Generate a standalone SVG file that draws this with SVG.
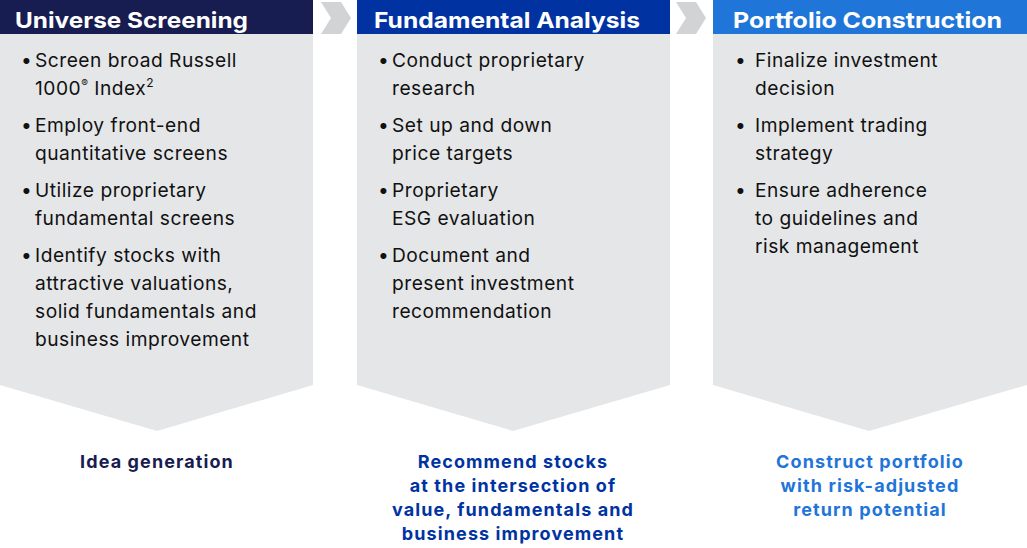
<svg xmlns="http://www.w3.org/2000/svg" width="1027" height="548" viewBox="0 0 1027 548">
<style>
.body{fill:#e5e6e8}
.chev{fill:#d1d3d4}
.hd{font-family:Inter,"Liberation Sans",sans-serif;font-weight:700;font-size:22px;fill:#ffffff}
.bl{font-family:Inter,"Liberation Sans",sans-serif;font-size:19.2px;letter-spacing:0.5px;fill:#111111}
.lb{font-family:Inter,"Liberation Sans",sans-serif;font-weight:700;font-size:18px;letter-spacing:1.1px;text-anchor:middle}
</style>
<rect width="1027" height="548" fill="#ffffff"/>
<g id="connectors">
<polygon class="chev" points="321,2 341,2 351,18 341,34 321,34 331,18"/>
<polygon class="chev" points="676,2 696,2 706,18 696,34 676,34 686,18"/>
</g>
<g id="universe-screening">
<polygon class="body" points="0,34 313,34 313,385 157,431 0,385"/>
<rect x="0" y="0" width="313" height="34" fill="#171d51"/>
<text class="hd" x="15" y="28" textLength="233" lengthAdjust="spacingAndGlyphs">Universe Screening</text>
<g class="bl">
<text x="21" y="67">•</text>
<text x="35" y="67">Screen broad Russell</text>
<text x="35" y="95">1000<tspan font-size="10" dy="-8">®</tspan><tspan dy="8"> Index</tspan><tspan font-size="12" dy="-8">2</tspan></text>
<text x="21" y="132">•</text>
<text x="35" y="132">Employ front-end</text>
<text x="35" y="160">quantitative screens</text>
<text x="21" y="197">•</text>
<text x="35" y="197">Utilize proprietary</text>
<text x="35" y="225">fundamental screens</text>
<text x="21" y="262">•</text>
<text x="35" y="262">Identify stocks with</text>
<text x="35" y="290">attractive valuations,</text>
<text x="35" y="318">solid fundamentals and</text>
<text x="35" y="346">business improvement</text>
</g>
<text class="lb" x="157" y="468" fill="#171d51">Idea generation</text>
</g>
<g id="fundamental-analysis">
<polygon class="body" points="357,34 670,34 670,385 513,431 357,385"/>
<rect x="357" y="0" width="313" height="34" fill="#0033a1"/>
<text class="hd" x="374" y="28" textLength="266" lengthAdjust="spacingAndGlyphs">Fundamental Analysis</text>
<g class="bl">
<text x="378" y="67">•</text>
<text x="392" y="67">Conduct proprietary</text>
<text x="392" y="95">research</text>
<text x="378" y="132">•</text>
<text x="392" y="132">Set up and down</text>
<text x="392" y="160">price targets</text>
<text x="378" y="197">•</text>
<text x="392" y="197">Proprietary</text>
<text x="392" y="225">ESG evaluation</text>
<text x="378" y="262">•</text>
<text x="392" y="262">Document and</text>
<text x="392" y="290">present investment</text>
<text x="392" y="318">recommendation</text>
</g>
<g class="lb" fill="#0033a1">
<text x="513" y="468">Recommend stocks</text>
<text x="513" y="492">at the intersection of</text>
<text x="513" y="516">value, fundamentals and</text>
<text x="513" y="540">business improvement</text>
</g>
</g>
<g id="portfolio-construction">
<polygon class="body" points="713,34 1027,34 1027,385 869,431 713,385"/>
<rect x="713" y="0" width="314" height="34" fill="#1f75d8"/>
<text class="hd" x="733" y="28" textLength="269" lengthAdjust="spacingAndGlyphs">Portfolio Construction</text>
<g class="bl">
<text x="735" y="67">•</text>
<text x="755" y="67">Finalize investment</text>
<text x="755" y="95">decision</text>
<text x="735" y="132">•</text>
<text x="755" y="132">Implement trading</text>
<text x="755" y="160">strategy</text>
<text x="735" y="197">•</text>
<text x="755" y="197">Ensure adherence</text>
<text x="755" y="225">to guidelines and</text>
<text x="755" y="253">risk management</text>
</g>
<g class="lb" fill="#1f75d8">
<text x="870" y="468">Construct portfolio</text>
<text x="870" y="492">with risk-adjusted</text>
<text x="870" y="516">return potential</text>
</g>
</g>
</svg>
